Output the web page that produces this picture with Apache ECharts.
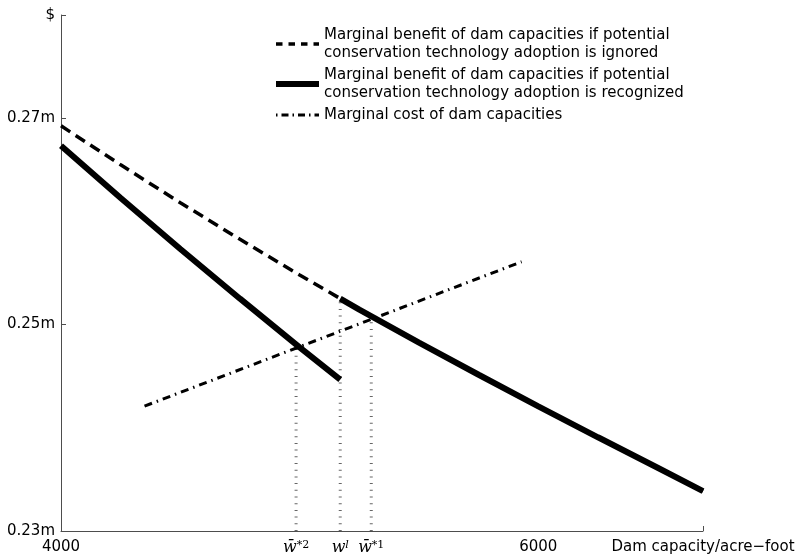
<!DOCTYPE html>
<html>
<head>
<meta charset="utf-8">
<script src="https://cdn.jsdelivr.net/npm/echarts@6/dist/echarts.min.js"></script>
<style>
  html, body { margin: 0; padding: 0; background: #fff; }
  #chart { width: 799px; height: 556px; }
</style>
</head>
<body>
<div id="chart"></div>
<script>
// Dam capacity (acre-feet) sample points for the benefit curves
const capacity = [4000, 4250, 4500, 4750, 5000, 5170, 5250, 5500, 5750, 6000, 6250, 6500, 6690];
// Marginal benefit ($m) when conservation technology adoption is ignored
const benefitIgnored = [0.26926, 0.26548, 0.26181, 0.25826, 0.25481, 0.25252, 0.25146, 0.24826, 0.24514, 0.24208, 0.23908, 0.23613, 0.23386];
// Marginal benefit ($m) when adoption is recognized, below the adoption threshold w^l
const capacityBelowThreshold = [4000, 4250, 4500, 4750, 5000, 5170];
const benefitRecognized = [0.26732, 0.26227, 0.25733, 0.25251, 0.24780, 0.24467];
// Marginal cost of dam capacity
const costCapacity = [4350, 5930];
const marginalCost = [0.24210, 0.25609];
// Marked capacities w̄*2, w^l, w̄*1 and the heights of their guide lines
const markCapacity = [4985, 5170, 5300];
const markHeight = [0.24786, 0.25252, 0.25057];
// Tick positions and labels
const xTickValues = [4000, 4985, 5170, 5300, 6000, 6690];
const xTickLabels = ['4000', '{w|w\u0304}{sup|*2}', '{w|w}{supi|l}', '{w|w\u0304}{sup|*1}', '6000', 'Dam capacity/acre\u2212foot'];
const yTickValues = [0.23, 0.25, 0.27, 0.28];
const yTickLabels = ['0.23m', '0.25m', '0.27m', '$'];
const seriesNames = [
  'Marginal benefit of dam capacities if potential\nconservation technology adoption is ignored',
  'Marginal benefit of dam capacities if potential\nconservation technology adoption is recognized',
  'Marginal cost of dam capacities'
];

const FONT = 'DejaVu Sans, Liberation Sans, Arial, sans-serif';
const SERIF = 'DejaVu Serif, Liberation Serif, serif';
const AXIS_COLOR = '#4d4d4d';

const pairs = (xs, ys) => xs.map((x, i) => [x, ys[i]]);
const thresholdIndex = capacity.indexOf(markCapacity[1]);

const guideSeries = markCapacity.map((x, i) => ({
  type: 'line',
  data: [[x, yTickValues[0]], [x, markHeight[i]]],
  symbol: 'none',
  silent: true,
  lineStyle: { color: '#666', width: 3, type: [1, 5.7] },
  z: 1
}));

const chart = echarts.init(document.getElementById('chart'), null, { renderer: 'canvas' });
chart.setOption({
  animation: false,
  backgroundColor: '#fff',
  grid: { left: 61, right: 96, top: 15, bottom: 25, outerBoundsMode: 'none' },
  legend: {
    left: 273,
    top: 26,
    orient: 'vertical',
    padding: 0,
    itemWidth: 43,
    itemHeight: 14,
    itemGap: 4,
    selectedMode: false,
    itemStyle: { opacity: 0 },
    textStyle: { fontFamily: FONT, fontSize: 15, lineHeight: 18, color: '#000' },
    data: [
      { name: seriesNames[0], lineStyle: { width: 3.5, type: [6.5, 6] } },
      { name: seriesNames[1], lineStyle: { width: 6 } },
      { name: seriesNames[2], lineStyle: { width: 3, type: [1.5, 4, 7, 4], dashOffset: 0 } }
    ]
  },
  xAxis: {
    type: 'value',
    min: 4000,
    max: 6690,
    splitLine: { show: false },
    axisLine: { show: true, lineStyle: { color: AXIS_COLOR, width: 1 } },
    axisTick: { show: true, customValues: [6690], inside: true, length: 5, lineStyle: { color: AXIS_COLOR } },
    axisLabel: {
      customValues: xTickValues,
      hideOverlap: false,
      margin: 9,
      color: '#000',
      fontFamily: FONT,
      fontSize: 15,
      formatter: v => xTickLabels[xTickValues.indexOf(v)],
      rich: {
        w: { fontFamily: SERIF, fontStyle: 'italic', fontSize: 16, color: '#000' },
        sup: { fontFamily: SERIF, fontSize: 11, verticalAlign: 'top', color: '#000' },
        supi: { fontFamily: SERIF, fontStyle: 'italic', fontSize: 11, verticalAlign: 'top', color: '#000' }
      }
    }
  },
  yAxis: {
    type: 'value',
    min: 0.23,
    max: 0.28,
    splitLine: { show: false },
    axisLine: { show: true, lineStyle: { color: AXIS_COLOR, width: 1 } },
    axisTick: { show: true, customValues: [0.25, 0.27, 0.28], inside: true, length: 5, lineStyle: { color: AXIS_COLOR } },
    axisLabel: {
      customValues: yTickValues,
      margin: 6,
      color: '#000',
      fontFamily: FONT,
      fontSize: 15,
      formatter: v => yTickLabels[yTickValues.indexOf(v)]
    }
  },
  series: guideSeries.concat([
    {
      name: seriesNames[0],
      type: 'line',
      data: pairs(capacity, benefitIgnored),
      symbol: 'none',
      lineStyle: { color: '#000', width: 3.5, type: [11, 6.5] },
      z: 2
    },
    {
      name: seriesNames[1],
      type: 'line',
      data: pairs(capacityBelowThreshold, benefitRecognized),
      symbol: 'none',
      lineStyle: { color: '#000', width: 6 },
      z: 3
    },
    {
      name: seriesNames[1],
      type: 'line',
      data: pairs(capacity.slice(thresholdIndex), benefitIgnored.slice(thresholdIndex)),
      symbol: 'none',
      lineStyle: { color: '#000', width: 6 },
      z: 3
    },
    {
      name: seriesNames[2],
      type: 'line',
      data: pairs(costCapacity, marginalCost),
      symbol: 'none',
      lineStyle: { color: '#000', width: 3, type: [8, 5, 1.5, 5] },
      z: 2
    }
  ])
});
</script>
</body>
</html>
